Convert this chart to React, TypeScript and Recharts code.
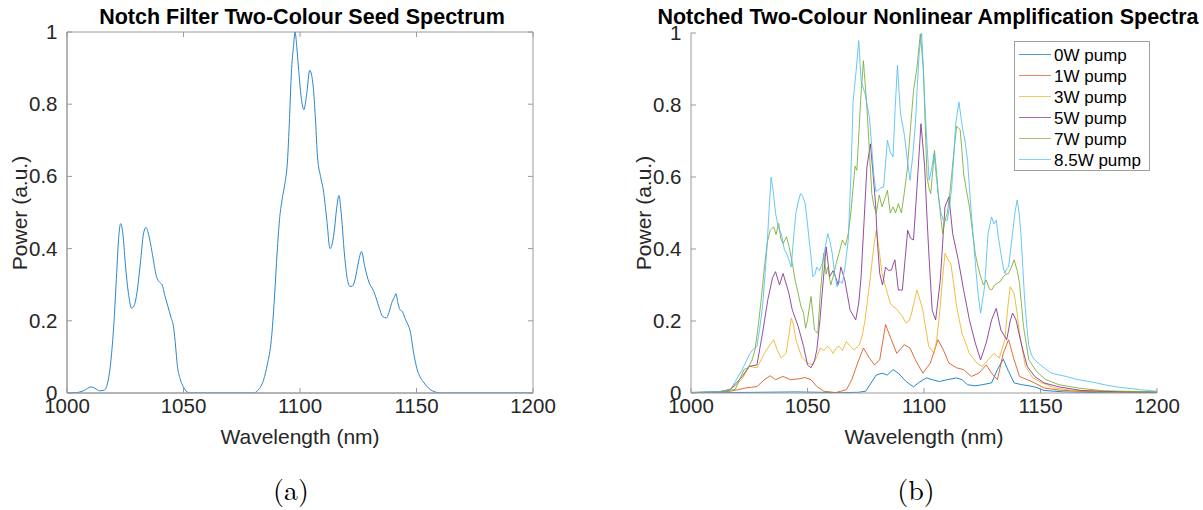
import React from 'react';
import { LineChart, Line, XAxis, YAxis, Legend, ReferenceArea } from 'recharts';

// ---------- data ----------
const xTicks = [1000, 1050, 1100, 1150, 1200];
const yTicks = [0, 0.2, 0.4, 0.6, 0.8, 1];

const seedSpectrum: [number, number][] = [
  [1000, 0], [1004, 0.001], [1007, 0.006], [1010.4, 0.017], [1012, 0.013], [1014, 0.006], [1016, 0.008],
  [1017.5, 0.03], [1019, 0.1], [1020.2, 0.2], [1021.3, 0.33], [1022.3, 0.44], [1023, 0.469], [1024, 0.44],
  [1025, 0.36], [1026.5, 0.27], [1027.7, 0.235], [1029, 0.245], [1030, 0.277], [1031.5, 0.36], [1032.8, 0.44],
  [1033.9, 0.459], [1035, 0.44], [1036.5, 0.39], [1038.4, 0.323], [1040, 0.305], [1040.8, 0.3], [1042, 0.27],
  [1043.3, 0.24], [1044.6, 0.21], [1045.8, 0.18], [1046.6, 0.13], [1047.4, 0.074], [1048.5, 0.04],
  [1049.9, 0.018], [1051.5, 0.003], [1053, 0], [1080, 0], [1082, 0.008], [1084.4, 0.037], [1086, 0.08],
  [1087.7, 0.148], [1089, 0.26], [1090.2, 0.39], [1091.2, 0.48], [1092.3, 0.535], [1093.5, 0.58],
  [1094.6, 0.64], [1095.5, 0.76], [1096.3, 0.886], [1097.2, 0.96], [1097.9, 1.0], [1098.6, 0.96],
  [1099.3, 0.905], [1100.5, 0.82], [1101.7, 0.785], [1102.9, 0.83], [1104.2, 0.894], [1105, 0.88],
  [1105.8, 0.84], [1106.7, 0.75], [1107.5, 0.656], [1108.8, 0.6], [1110, 0.563], [1111.5, 0.48],
  [1112.9, 0.4], [1113.7, 0.41], [1114.6, 0.443], [1115.7, 0.51], [1116.7, 0.547], [1117.8, 0.49],
  [1119, 0.39], [1120.2, 0.32], [1121.5, 0.295], [1122.5, 0.296], [1123.6, 0.314], [1125, 0.36],
  [1126.4, 0.392], [1127.8, 0.35], [1129.7, 0.305], [1131, 0.29], [1132.2, 0.272], [1133.8, 0.24],
  [1135.5, 0.212], [1137.1, 0.208], [1138.5, 0.23], [1139.6, 0.254], [1140.5, 0.265], [1141.2, 0.275],
  [1142, 0.25], [1142.9, 0.231], [1144, 0.225], [1145.3, 0.203], [1146.3, 0.19], [1147.3, 0.171],
  [1148.8, 0.11], [1150.3, 0.065], [1151.5, 0.045], [1152.8, 0.032], [1154.5, 0.018], [1156, 0.009],
  [1158, 0.003], [1160, 0], [1200, 0],
];

const pump0W: [number, number][] = [
  [1000, 0.001], [1015, 0.001], [1030, 0.002], [1045, 0.003], [1055, 0.002], [1065, 0.001], [1072, 0.002],
  [1075, 0.005], [1077, 0.025], [1079.5, 0.05], [1082, 0.055], [1084.3, 0.05], [1086.7, 0.065], [1089, 0.055],
  [1092.3, 0.032], [1095.5, 0.017], [1098, 0.03], [1101, 0.042], [1103.5, 0.037], [1106.7, 0.032],
  [1110, 0.037], [1114, 0.042], [1116.3, 0.037], [1118.7, 0.023], [1122, 0.02], [1125, 0.023], [1129, 0.028],
  [1131.5, 0.065], [1134, 0.094], [1136.3, 0.06], [1138.7, 0.028], [1142, 0.023], [1145, 0.02], [1148, 0.016],
  [1151.5, 0.007], [1160, 0.003], [1175, 0.001], [1200, 0.001],
];

const pump1W: [number, number][] = [
  [1000, 0.001], [1012, 0.002], [1017, 0.005], [1020, 0.009], [1023.5, 0.014], [1026, 0.016], [1028.3, 0.018],
  [1031.5, 0.037], [1034, 0.048], [1036.3, 0.037], [1039.5, 0.046], [1042.7, 0.037], [1046, 0.039],
  [1049, 0.043], [1051.5, 0.037], [1054, 0.018], [1057, 0.005], [1062, 0.001], [1066.7, 0.009], [1069, 0.037],
  [1071.5, 0.083], [1074, 0.125], [1076.3, 0.1], [1078.7, 0.078], [1081, 0.092], [1083.5, 0.19], [1086, 0.148],
  [1088.3, 0.11], [1091.5, 0.134], [1094, 0.125], [1096.3, 0.092], [1099.5, 0.055], [1102.7, 0.083],
  [1106, 0.148], [1108.3, 0.12], [1110.7, 0.083], [1114, 0.07], [1117, 0.065], [1120.3, 0.046], [1123.5, 0.055],
  [1126.7, 0.078], [1129, 0.055], [1131.5, 0.037], [1134, 0.11], [1136.3, 0.148], [1138.7, 0.092], [1141, 0.046],
  [1144.3, 0.037], [1147.5, 0.028], [1151.5, 0.014], [1158, 0.008], [1169, 0.004], [1200, 0.002],
];

const pump3W: [number, number][] = [
  [1000, 0.001], [1012, 0.003], [1016, 0.008], [1019, 0.02], [1022, 0.04], [1025, 0.074], [1028.3, 0.07],
  [1031.5, 0.11], [1033.5, 0.13], [1035.5, 0.148], [1037, 0.12], [1038.7, 0.097], [1040.8, 0.11], [1042, 0.16],
  [1043, 0.208], [1044, 0.19], [1045, 0.148], [1047.5, 0.1], [1050, 0.083], [1052.3, 0.078], [1054, 0.1],
  [1055.5, 0.125], [1057, 0.118], [1058.7, 0.13], [1060, 0.12], [1061, 0.11], [1062.3, 0.125], [1063.5, 0.13],
  [1065, 0.118], [1066.7, 0.143], [1068.3, 0.13], [1070, 0.12], [1072.3, 0.134], [1073.5, 0.16], [1074.7, 0.203],
  [1077, 0.323], [1078.5, 0.41], [1079.5, 0.452], [1080.7, 0.4], [1082, 0.332], [1084.3, 0.277], [1085.5, 0.25],
  [1086.7, 0.24], [1088, 0.235], [1089, 0.226], [1090.5, 0.215], [1092.3, 0.194], [1093.5, 0.2], [1094.7, 0.222],
  [1096, 0.26], [1097, 0.286], [1098.2, 0.26], [1099.5, 0.23], [1101, 0.17], [1102, 0.13], [1104.3, 0.11],
  [1105.5, 0.15], [1106.7, 0.222], [1108, 0.32], [1109, 0.388], [1110.3, 0.37], [1111.5, 0.36], [1112.8, 0.3],
  [1114, 0.24], [1116.3, 0.166], [1119.5, 0.11], [1122.7, 0.083], [1125, 0.074], [1127.5, 0.092], [1130, 0.11],
  [1132.3, 0.097], [1134.7, 0.148], [1136, 0.24], [1137, 0.295], [1138.7, 0.277], [1140, 0.22], [1141, 0.166],
  [1143.5, 0.074], [1146.7, 0.042], [1150.7, 0.028], [1156.3, 0.014], [1164, 0.007], [1180, 0.003], [1200, 0.002],
];

const pump5W: [number, number][] = [
  [1000, 0.001], [1012, 0.003], [1017, 0.01], [1022, 0.046], [1025, 0.074], [1028.3, 0.078], [1030.7, 0.166],
  [1033, 0.26], [1035, 0.32], [1036.3, 0.337], [1038, 0.3], [1039.5, 0.332], [1041, 0.3], [1042, 0.277],
  [1043.5, 0.23], [1046, 0.185], [1048.3, 0.13], [1050, 0.078], [1051.5, 0.07], [1053, 0.09], [1054, 0.12],
  [1055.3, 0.2], [1056.3, 0.277], [1058, 0.406], [1059.5, 0.323], [1061, 0.34], [1062, 0.323], [1063.2, 0.3],
  [1064.3, 0.35], [1066, 0.314], [1067.2, 0.27], [1068.3, 0.23], [1070.7, 0.203], [1072, 0.25], [1073, 0.323],
  [1074.3, 0.48], [1075.5, 0.628], [1077, 0.692], [1078, 0.62], [1079.2, 0.526], [1080, 0.42], [1081, 0.332],
  [1082.2, 0.3], [1083.5, 0.35], [1084.8, 0.34], [1086, 0.342], [1087.5, 0.37], [1089, 0.286], [1090.7, 0.286],
  [1092, 0.38], [1093, 0.452], [1094.2, 0.43], [1095.5, 0.425], [1097, 0.572], [1098.7, 0.748], [1100.3, 0.628],
  [1101.2, 0.5], [1102, 0.397], [1103.5, 0.23], [1105, 0.203], [1107, 0.314], [1109, 0.517], [1110.7, 0.545],
  [1112.3, 0.443], [1114.7, 0.37], [1117, 0.286], [1119.5, 0.203], [1122, 0.139], [1124.3, 0.092],
  [1126.7, 0.139], [1129, 0.203], [1131, 0.235], [1133, 0.175], [1135.5, 0.148], [1137, 0.2], [1138, 0.222],
  [1139.5, 0.203], [1142, 0.13], [1144.3, 0.074], [1147.5, 0.046], [1151.5, 0.028], [1158, 0.017],
  [1167.5, 0.007], [1185, 0.003], [1200, 0.002],
];

const pump7W: [number, number][] = [
  [1000, 0.001], [1012, 0.003], [1019, 0.01], [1022.7, 0.065], [1024.5, 0.07], [1026, 0.088], [1027.5, 0.12],
  [1029, 0.194], [1030.3, 0.27], [1031.5, 0.35], [1032.8, 0.42], [1034, 0.452], [1035.5, 0.462], [1036.5, 0.44],
  [1037.6, 0.471], [1038.5, 0.43], [1039.5, 0.415], [1041, 0.434], [1042.3, 0.4], [1043.5, 0.36], [1044.8, 0.31],
  [1046, 0.277], [1047.2, 0.24], [1048.3, 0.222], [1049.2, 0.18], [1050, 0.203], [1051.5, 0.268], [1052.3, 0.22],
  [1053, 0.175], [1054.4, 0.166], [1055.5, 0.277], [1057, 0.388], [1058, 0.33], [1058.7, 0.35], [1060, 0.3],
  [1061, 0.323], [1062.3, 0.36], [1063.5, 0.388], [1065, 0.425], [1066.3, 0.41], [1067.5, 0.443], [1068.6, 0.5],
  [1069.6, 0.572], [1070.4, 0.63], [1071.2, 0.619], [1072.8, 0.813], [1074, 0.923], [1075.5, 0.794],
  [1076.5, 0.68], [1077.6, 0.554], [1078.5, 0.52], [1079.5, 0.499], [1080.8, 0.55], [1082, 0.517],
  [1083.2, 0.54], [1084.3, 0.563], [1085.5, 0.5], [1086.7, 0.517], [1087.8, 0.5], [1089, 0.526], [1090.3, 0.5],
  [1091.5, 0.554], [1092.8, 0.62], [1094, 0.72], [1095.5, 0.84], [1097, 0.905], [1098.4, 0.997], [1099.7, 0.905],
  [1100.5, 0.75], [1101.3, 0.6], [1102.1, 0.57], [1102.9, 0.554], [1104.5, 0.674], [1105.3, 0.62],
  [1106.1, 0.554], [1107, 0.5], [1108, 0.443], [1109, 0.48], [1110, 0.499], [1111, 0.55], [1111.9, 0.609],
  [1113, 0.68], [1114, 0.741], [1115.5, 0.732], [1116.3, 0.67], [1117, 0.609], [1118.3, 0.56], [1119.5, 0.517],
  [1120.8, 0.45], [1122, 0.388], [1123.2, 0.35], [1124.3, 0.323], [1125.5, 0.3], [1126.7, 0.314], [1128, 0.29],
  [1129, 0.286], [1130.3, 0.3], [1131.5, 0.305], [1132.8, 0.31], [1134, 0.323], [1135.2, 0.33], [1136.3, 0.332],
  [1137.5, 0.35], [1138.7, 0.37], [1140, 0.34], [1141, 0.305], [1142.7, 0.185], [1145, 0.092], [1148.3, 0.06],
  [1152.3, 0.037], [1158, 0.023], [1166, 0.014], [1177, 0.006], [1200, 0.003],
];

const pump85W: [number, number][] = [
  [1000, 0.002], [1012, 0.004], [1017, 0.01], [1022, 0.065], [1025, 0.106], [1026.5, 0.12], [1028.3, 0.13],
  [1029.5, 0.18], [1030.7, 0.24], [1031.8, 0.33], [1032.8, 0.425], [1033.6, 0.52], [1034.4, 0.6], [1035.3, 0.56],
  [1036.3, 0.499], [1037.5, 0.46], [1038.7, 0.443], [1040, 0.4], [1041, 0.388], [1042, 0.37], [1043, 0.35],
  [1044, 0.43], [1045, 0.499], [1046, 0.53], [1047, 0.554], [1048, 0.545], [1049, 0.526], [1050, 0.47],
  [1050.7, 0.425], [1051.5, 0.38], [1052.3, 0.323], [1053.2, 0.33], [1054, 0.35], [1055.2, 0.34], [1056.3, 0.36],
  [1057.5, 0.4], [1058.7, 0.443], [1059.7, 0.42], [1060.6, 0.388], [1061.7, 0.33], [1062.7, 0.295],
  [1063.8, 0.31], [1065, 0.305], [1066.3, 0.36], [1067.5, 0.425], [1068.6, 0.6], [1069.6, 0.813],
  [1070.9, 0.896], [1072, 0.979], [1073, 0.868], [1074.7, 0.831], [1075.6, 0.8], [1076.6, 0.766],
  [1077.5, 0.69], [1078.4, 0.609], [1079.3, 0.56], [1080.3, 0.563], [1081.5, 0.57], [1082.7, 0.572],
  [1083.5, 0.64], [1084.3, 0.702], [1085.5, 0.67], [1086.7, 0.656], [1087.7, 0.8], [1088.6, 0.91],
  [1089.9, 0.776], [1091.5, 0.72], [1092.8, 0.65], [1094, 0.591], [1095.2, 0.66], [1096.3, 0.748],
  [1097.2, 0.86], [1098, 0.951], [1099, 1.0], [1100.3, 0.813], [1101.2, 0.7], [1102.2, 0.591], [1103.2, 0.62],
  [1104.3, 0.665], [1105.3, 0.6], [1106.4, 0.536], [1107.3, 0.5], [1108.3, 0.48], [1110, 0.48], [1111, 0.52],
  [1111.9, 0.572], [1112.8, 0.66], [1113.6, 0.748], [1115, 0.808], [1115.8, 0.77], [1116.6, 0.732],
  [1117.6, 0.7], [1118.7, 0.646], [1119.5, 0.57], [1120.3, 0.499], [1121.3, 0.42], [1122.4, 0.332],
  [1123.3, 0.27], [1124.3, 0.222], [1125.2, 0.26], [1126, 0.295], [1127.5, 0.443], [1129, 0.489], [1130, 0.47],
  [1131, 0.48], [1132, 0.43], [1133, 0.388], [1134, 0.35], [1134.7, 0.332], [1135.5, 0.345], [1136.3, 0.35],
  [1137.2, 0.4], [1138, 0.443], [1139, 0.5], [1140, 0.536], [1140.8, 0.5], [1141.6, 0.443], [1142.4, 0.35],
  [1143.2, 0.259], [1144.2, 0.18], [1145, 0.13], [1146.2, 0.105], [1147.5, 0.092], [1150.7, 0.074],
  [1154.7, 0.055], [1158, 0.05], [1161, 0.046], [1166, 0.037], [1170, 0.033], [1174, 0.028], [1178, 0.022],
  [1183.5, 0.016], [1188, 0.013], [1193, 0.009], [1200, 0.005],
];

const pumpNames = ['0W pump', '1W pump', '3W pump', '5W pump', '7W pump', '8.5W pump'];
const pumpSeries = [pump0W, pump1W, pump3W, pump5W, pump7W, pump85W];
const pumpColors = ['#0072BD', '#D95319', '#EDB120', '#7E2F8E', '#77AC30', '#4DBEEE'];

// ---------- styling ----------
const FONT = '"Liberation Sans", Arial, Helvetica, sans-serif';
const AXIS = '#9a9a9a';
const TXT = '#262626';
const TICK_LEN = 5;
const TICK_FS = 20.5;

const toRows = (s: [number, number][]) => s.map(([w, p]) => ({ w, p }));

const fmtY = (v: number) => String(Math.round(v * 10) / 10);

function makeXTick(plotH: number, box: boolean) {
  return (props: any) => {
    const { x, y, payload } = props;
    return (
      <g>
        <line x1={x} x2={x} y1={y} y2={y - TICK_LEN} stroke={AXIS} strokeWidth={1} />
        {box && <line x1={x} x2={x} y1={y - plotH} y2={y - plotH + TICK_LEN} stroke={AXIS} strokeWidth={1} />}
        <text x={x} y={y + 20} textAnchor="middle" fontSize={TICK_FS} fill={TXT} fontFamily={FONT}>
          {payload.value}
        </text>
      </g>
    );
  };
}

function makeYTick(plotW: number, box: boolean) {
  return (props: any) => {
    const { x, y, payload } = props;
    return (
      <g>
        <line x1={x} x2={x + TICK_LEN} y1={y} y2={y} stroke={AXIS} strokeWidth={1} />
        {box && <line x1={x + plotW} x2={x + plotW - TICK_LEN} y1={y} y2={y} stroke={AXIS} strokeWidth={1} />}
        <text x={x - 9.5} y={y + 7} textAnchor="end" fontSize={TICK_FS} fill={TXT} fontFamily={FONT}>
          {fmtY(payload.value)}
        </text>
      </g>
    );
  };
}

const LegendBox = (props: any) => {
  const payload = props.payload || [];
  return (
    <svg width={136} height={130} style={{ display: 'block' }}>
      <rect x={0.5} y={0.5} width={135} height={129} fill="#fff" stroke="#a0a0a0" strokeWidth={1} />
      {payload.map((e: any, i: number) => {
        const cy = Math.round(13 + i * 20.9) + 0.5;
        return (
          <g key={e.value}>
            <line x1={5} x2={37} y1={cy} y2={cy} stroke={e.color} strokeWidth={1} strokeOpacity={0.7} />
            <text x={40} y={cy + 6} fontSize={17} fontFamily={FONT} fill="#000">
              {e.value}
            </text>
          </g>
        );
      })}
    </svg>
  );
};

const titleStyle: React.CSSProperties = {
  position: 'absolute',
  top: 6,
  fontFamily: FONT,
  fontWeight: 'bold',
  fontSize: 21.5,
  lineHeight: '22px',
  color: '#000',
  textAlign: 'center',
  whiteSpace: 'nowrap',
};

const axisTitle: React.CSSProperties = {
  position: 'absolute',
  fontFamily: FONT,
  fontSize: 21,
  lineHeight: '22px',
  color: TXT,
  textAlign: 'center',
  whiteSpace: 'nowrap',
};

const caption: React.CSSProperties = {
  position: 'absolute',
  fontFamily: '"Latin Modern Roman", "Liberation Serif", "DejaVu Serif", serif',
  fontSize: 28,
  lineHeight: '30px',
  color: '#000',
  textAlign: 'center',
  width: 80,
};

// left plot area: x 67..533, y 32..393; right plot area: x 691..1157, y 33..393
export default function App() {
  const leftW = 466;
  const leftH = 361;
  const rightW = 466;
  const rightH = 360;
  return (
    <div style={{ position: 'absolute', left: 0, top: 0, width: 1203, height: 510, background: '#fff', overflow: 'hidden' }}>
      {/* Left chart */}
      <div style={{ position: 'absolute', left: 0, top: 0 }}>
        <LineChart width={600} height={510} margin={{ top: 32, left: 0, right: 67, bottom: 0 }}>
          <XAxis
            dataKey="w"
            type="number"
            domain={[1000, 1200]}
            ticks={xTicks}
            interval={0}
            height={117}
            tickSize={0}
            tickMargin={0}
            tickLine={false}
            axisLine={{ stroke: AXIS }}
            tick={makeXTick(leftH, true)}
            allowDataOverflow
          />
          <YAxis
            type="number"
            domain={[0, 1]}
            ticks={yTicks}
            interval={0}
            width={67}
            tickSize={0}
            tickMargin={0}
            tickLine={false}
            axisLine={{ stroke: AXIS }}
            tick={makeYTick(leftW, true)}
            allowDataOverflow
          />
          <ReferenceArea x1={1000} x2={1200} y1={0} y2={1} fill="none" stroke={AXIS} strokeWidth={1} />
          <Line
            data={toRows(seedSpectrum)}
            dataKey="p"
            type="monotone"
            stroke="#2b86cc"
            strokeWidth={1}
            dot={false}
            isAnimationActive={false}
            name="Seed"
          />
        </LineChart>
      </div>

      {/* Right chart */}
      <div style={{ position: 'absolute', left: 600, top: 0 }}>
        <LineChart width={603} height={510} margin={{ top: 33, left: 0, right: 46, bottom: 0 }}>
          <XAxis
            dataKey="w"
            type="number"
            domain={[1000, 1200]}
            ticks={xTicks}
            interval={0}
            height={117}
            tickSize={0}
            tickMargin={0}
            tickLine={false}
            axisLine={{ stroke: AXIS }}
            tick={makeXTick(rightH, false)}
            allowDataOverflow
          />
          <YAxis
            type="number"
            domain={[0, 1]}
            ticks={yTicks}
            interval={0}
            width={91}
            tickSize={0}
            tickMargin={0}
            tickLine={false}
            axisLine={{ stroke: AXIS }}
            tick={makeYTick(rightW, false)}
            allowDataOverflow
          />
          {pumpSeries.map((s, i) => (
            <Line
              key={pumpNames[i]}
              data={toRows(s)}
              dataKey="p"
              name={pumpNames[i]}
              type="linear"
              stroke={pumpColors[i]}
              strokeWidth={1}
              strokeOpacity={0.85}
              dot={false}
              isAnimationActive={false}
            />
          ))}
          <Legend
            layout="vertical"
            align="center"
            verticalAlign="middle"
            content={LegendBox}
            wrapperStyle={{ left: 414, top: 41, width: 136, height: 130 }}
          />
        </LineChart>
      </div>

      {/* Titles */}
      <div style={{ ...titleStyle, left: 2, width: 600 }}>Notch Filter Two-Colour Seed Spectrum</div>
      <div style={{ ...titleStyle, left: 628, width: 600 }}>Notched Two-Colour Nonlinear Amplification Spectra</div>

      {/* Axis titles */}
      <div style={{ ...axisTitle, left: 0, width: 600, top: 426 }}>Wavelength (nm)</div>
      <div style={{ ...axisTitle, left: 624, width: 600, top: 426 }}>Wavelength (nm)</div>
      <div style={{ ...axisTitle, left: 20 - 100, top: 213 - 11, width: 200, transform: 'rotate(-90deg)' }}>Power (a.u.)</div>
      <div style={{ ...axisTitle, left: 644 - 100, top: 213 - 11, width: 200, transform: 'rotate(-90deg)' }}>Power (a.u.)</div>

      {/* Captions */}
      <div style={{ ...caption, left: 291 - 40, top: 473 }}>(a)</div>
      <div style={{ ...caption, left: 916 - 40, top: 473 }}>(b)</div>
    </div>
  );
}
